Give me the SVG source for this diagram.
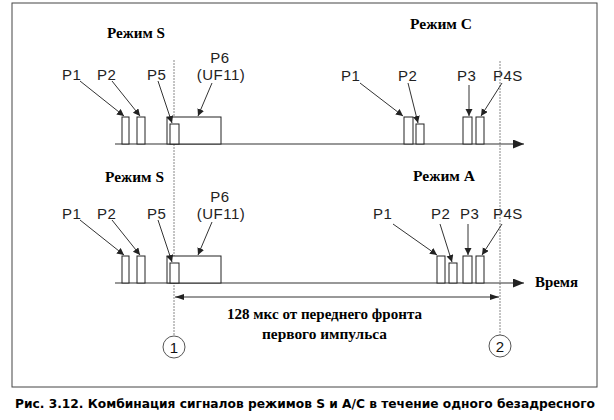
<svg xmlns="http://www.w3.org/2000/svg" width="614" height="420" viewBox="0 0 614 420">
<style>
.lbl{font-family:"Liberation Sans",Arial,sans-serif;font-size:15px;letter-spacing:0.5px;fill:#222}
.hd{font-family:"Liberation Serif","Times New Roman",serif;font-weight:bold;font-size:14px;fill:#000}
.pulse{fill:#fff;stroke:#222;stroke-width:1}
.ptr{stroke:#333;stroke-width:1;fill:none;marker-end:url(#ah)}
.axis{stroke:#333;stroke-width:1.2;fill:none;marker-end:url(#ax)}
.guide{stroke:#888;stroke-width:1;stroke-dasharray:2,1;fill:none}
.dim{stroke:#333;stroke-width:1;fill:none;marker-start:url(#dm);marker-end:url(#dm)}
.circ{fill:#fff;stroke:#555;stroke-width:1}
.num{font-family:"Liberation Sans",Arial,sans-serif;font-size:15px;fill:#111;text-anchor:middle}
.cap{font-family:"DejaVu Sans",Verdana,sans-serif;font-weight:bold;font-size:12px;fill:#000}
</style>
<defs>
<marker id="ah" markerUnits="userSpaceOnUse" markerWidth="8" markerHeight="8" refX="7" refY="3.5" orient="auto"><path d="M0,0 L7,3.5 L0,7 z" fill="#222"/></marker>
<marker id="ax" markerUnits="userSpaceOnUse" markerWidth="12" markerHeight="10" refX="11" refY="4.5" orient="auto"><path d="M0,0 L11,4.5 L0,9 z" fill="#222"/></marker>
<marker id="dm" markerUnits="userSpaceOnUse" markerWidth="10" markerHeight="8" refX="9" refY="3" orient="auto-start-reverse"><path d="M0,0 L9,3 L0,6 z" fill="#222"/></marker>
</defs>
<rect id="frame" x="12" y="3" width="585" height="384" fill="#fff" stroke="#444" stroke-width="1"/>

<g id="guides">
<line class="guide" x1="174" y1="60" x2="174" y2="336"/>
<line class="guide" x1="500" y1="61" x2="500" y2="335"/>
</g>

<g id="axes">
<line class="axis" x1="115" y1="144" x2="524" y2="144"/>
<line class="axis" x1="115" y1="283" x2="524" y2="283"/>
</g>

<g id="modeS-top">
<text class="hd" x="107" y="38" textLength="58" lengthAdjust="spacingAndGlyphs">Режим S</text>
<rect class="pulse" x="122" y="117" width="7" height="27"/>
<rect class="pulse" x="137" y="117" width="8" height="27"/>
<rect class="pulse" x="167" y="117" width="54" height="27"/>
<rect class="pulse" x="170" y="124" width="9" height="20"/>
<text class="lbl" x="62" y="80">P1</text>
<text class="lbl" x="97" y="80">P2</text>
<text class="lbl" x="147" y="80">P5</text>
<text class="lbl" x="220" y="63" text-anchor="middle">P6</text>
<text class="lbl" x="221" y="80" text-anchor="middle">(UF11)</text>
</g>

<g id="modeC-top">
<text class="hd" x="410" y="29" textLength="62" lengthAdjust="spacingAndGlyphs">Режим C</text>
<rect class="pulse" x="404" y="117" width="9" height="27"/>
<rect class="pulse" x="416" y="124" width="8" height="20"/>
<rect class="pulse" x="463" y="117" width="9" height="27"/>
<rect class="pulse" x="476" y="117" width="8" height="27"/>
<text class="lbl" x="341" y="81">P1</text>
<text class="lbl" x="398" y="81">P2</text>
<text class="lbl" x="457" y="81">P3</text>
<text class="lbl" x="493" y="81">P4S</text>
</g>

<g id="modeS-bottom">
<text class="hd" x="105" y="182" textLength="59" lengthAdjust="spacingAndGlyphs">Режим S</text>
<rect class="pulse" x="122" y="256" width="7" height="27"/>
<rect class="pulse" x="137" y="256" width="8" height="27"/>
<rect class="pulse" x="167" y="256" width="54" height="27"/>
<rect class="pulse" x="170" y="263" width="9" height="20"/>
<text class="lbl" x="62" y="219">P1</text>
<text class="lbl" x="97" y="219">P2</text>
<text class="lbl" x="147" y="219">P5</text>
<text class="lbl" x="220" y="202" text-anchor="middle">P6</text>
<text class="lbl" x="221" y="219" text-anchor="middle">(UF11)</text>
</g>

<g id="modeA-bottom">
<text class="hd" x="413" y="181" textLength="62" lengthAdjust="spacingAndGlyphs">Режим A</text>
<rect class="pulse" x="437" y="256" width="8" height="27"/>
<rect class="pulse" x="449" y="263" width="8" height="20"/>
<rect class="pulse" x="463" y="256" width="9" height="27"/>
<rect class="pulse" x="476" y="256" width="8" height="27"/>
<text class="lbl" x="373" y="219">P1</text>
<text class="lbl" x="431" y="219">P2</text>
<text class="lbl" x="460" y="219">P3</text>
<text class="lbl" x="493" y="219">P4S</text>
</g>

<g id="time-label">
<text class="hd" x="535" y="287" textLength="43" lengthAdjust="spacingAndGlyphs">Время</text>
</g>

<g id="marker1">
<circle class="circ" cx="174" cy="347" r="11"/>
<text class="num" x="174" y="352.5">1</text>
</g>
<g id="marker2">
<circle class="circ" cx="500" cy="346" r="11"/>
<text class="num" x="500" y="351.5">2</text>
</g>

<g id="dimension">
<line class="dim" x1="175" y1="297" x2="499" y2="297"/>
<text class="hd" x="227" y="319" textLength="195" lengthAdjust="spacingAndGlyphs">128 мкс от переднего фронта</text>
<text class="hd" x="262" y="339" textLength="125" lengthAdjust="spacingAndGlyphs">первого импульса</text>
</g>

<g id="connectors">
<line class="ptr" x1="80" y1="81" x2="124" y2="116"/>
<line class="ptr" x1="112" y1="81" x2="140" y2="116"/>
<line class="ptr" x1="158" y1="81" x2="172" y2="123"/>
<line class="ptr" x1="212" y1="83" x2="198" y2="116"/>
<line class="ptr" x1="360" y1="83" x2="403" y2="116"/>
<line class="ptr" x1="408" y1="83" x2="418" y2="123"/>
<line class="ptr" x1="469" y1="85" x2="469" y2="116"/>
<line class="ptr" x1="502" y1="83" x2="481" y2="116"/>
<line class="ptr" x1="80" y1="220" x2="124" y2="255"/>
<line class="ptr" x1="112" y1="220" x2="140" y2="255"/>
<line class="ptr" x1="158" y1="220" x2="172" y2="262"/>
<line class="ptr" x1="212" y1="222" x2="198" y2="255"/>
<line class="ptr" x1="393" y1="224" x2="437" y2="255"/>
<line class="ptr" x1="440" y1="224" x2="452" y2="262"/>
<line class="ptr" x1="468" y1="224" x2="468" y2="255"/>
<line class="ptr" x1="502" y1="224" x2="482" y2="255"/>
</g>

<text class="cap" x="15" y="408" textLength="580" lengthAdjust="spacingAndGlyphs">Рис. 3.12. Комбинация  сигналов режимов S и A/C в течение одного безадресного</text>
</svg>
